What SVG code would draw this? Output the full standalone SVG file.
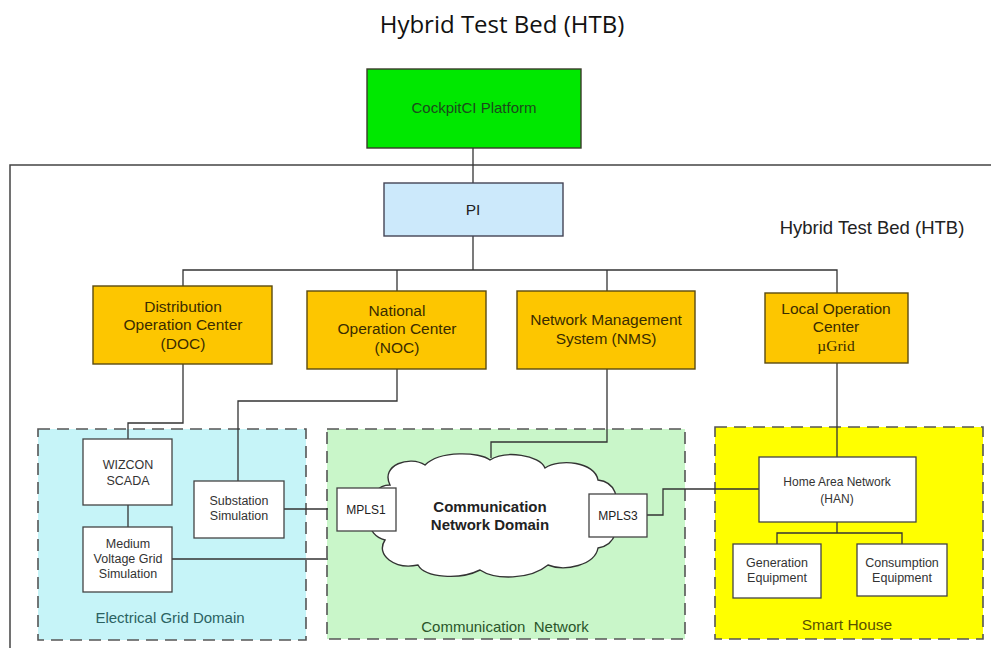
<svg xmlns="http://www.w3.org/2000/svg" width="991" height="648" viewBox="0 0 991 648">
<style>
text{font-family:"Liberation Sans",Arial,sans-serif;text-anchor:middle}
.box{stroke:#3a3a2a;stroke-width:1.4}
.org{fill:#fdc600;stroke:#5a4a10;stroke-width:1.4}
.org-t{font-size:15.5px;fill:#3a2c00}
.wb{fill:#ffffff;stroke:#444;stroke-width:1.3}
.sm{font-size:12.5px;fill:#333}
.dom{stroke:#555;stroke-width:1.6;stroke-dasharray:12 7}
.ln{fill:none;stroke:#333;stroke-width:1.3}
</style>
<rect width="991" height="648" fill="#ffffff"/>
<text x="502" y="33" style="font-family:'Open Sans','Liberation Sans',sans-serif;font-size:24px;fill:#111">Hybrid Test Bed (HTB)</text>

<g id="htb-frame">
<path d="M10 648 V165 H991" fill="none" stroke="#444" stroke-width="1.5"/>
<text x="872" y="234" style="font-size:18.5px;fill:#222">Hybrid Test Bed (HTB)</text>
</g>

<g id="electrical-domain">
<rect x="38" y="429" width="268" height="211" fill="#c6f4f8" class="dom"/>
<text x="170" y="623" style="font-size:15px;fill:#2b6262">Electrical Grid Domain</text>
</g>
<g id="communication-domain">
<rect x="327" y="429" width="358" height="210" fill="#c9f6c9" class="dom"/>
<text x="505" y="632" style="font-size:15px;fill:#2a552a" xml:space="preserve">Communication  Network</text>
</g>
<g id="smart-house">
<rect x="715" y="427" width="268" height="212" fill="#ffff00" class="dom"/>
<text x="847" y="630" style="font-size:15.5px;fill:#5a5200">Smart House</text>
</g>

<g id="connectors">
<path class="ln" d="M473 148 V183"/>
<path class="ln" d="M473 236 V270"/>
<path class="ln" d="M183 286 V270 H837 V293"/>
<path class="ln" d="M397 270 V291"/>
<path class="ln" d="M607 270 V291"/>
<path class="ln" d="M183 364 V423 H128 V439"/>
<path class="ln" d="M128 505 V527"/>
<path class="ln" d="M397 369 V401 H238 V481"/>
<path class="ln" d="M284 509 H328"/>
<path class="ln" d="M172 559 H328"/>
<path class="ln" d="M607 369 V442 H491 V458"/>
<path class="ln" d="M647 515 H663 V489 H759"/>
<path class="ln" d="M837 363 V457"/>
<path class="ln" d="M837 522 V533 M777 544 V533 H902 V544"/>
</g>

<g id="cockpitci">
<rect x="367" y="69" width="214" height="79" fill="#00e800" class="box"/>
<text x="474" y="113" style="font-size:15px;fill:#1c4a1c">CockpitCI Platform</text>
</g>
<g id="pi">
<rect x="384" y="183" width="179" height="53" fill="#cce9fb" stroke="#445" stroke-width="1.4"/>
<text x="473" y="215" style="font-size:15.5px;fill:#222">PI</text>
</g>
<g id="doc">
<rect x="93" y="286" width="179" height="78" class="org"/>
<text class="org-t" x="183" y="312">Distribution</text>
<text class="org-t" x="183" y="330">Operation Center</text>
<text class="org-t" x="183" y="349">(DOC)</text>
</g>
<g id="noc">
<rect x="307" y="291" width="179" height="78" class="org"/>
<text class="org-t" x="397" y="316">National</text>
<text class="org-t" x="397" y="334">Operation Center</text>
<text class="org-t" x="397" y="353">(NOC)</text>
</g>
<g id="nms">
<rect x="517" y="291" width="178" height="78" class="org"/>
<text class="org-t" x="606" y="325">Network Management</text>
<text class="org-t" x="606" y="344">System (NMS)</text>
</g>
<g id="loc">
<rect x="765" y="293" width="143" height="70" class="org"/>
<text class="org-t" x="836" y="314">Local Operation</text>
<text class="org-t" x="836" y="332">Center</text>
<text x="836" y="351" style="font-family:'Liberation Serif','Times New Roman',serif;font-size:15.5px;fill:#3a2c00">µGrid</text>
</g>

<g id="wizcon">
<rect x="83" y="439" width="89" height="66" class="wb"/>
<text class="sm" x="128" y="469">WIZCON</text>
<text class="sm" x="128" y="485">SCADA</text>
</g>
<g id="mv-grid">
<rect x="83" y="527" width="89" height="65" class="wb"/>
<text class="sm" x="128" y="548">Medium</text>
<text class="sm" x="128" y="563">Voltage Grid</text>
<text class="sm" x="128" y="578">Simulation</text>
</g>
<g id="substation">
<rect x="194" y="481" width="90" height="57" class="wb"/>
<text class="sm" x="239" y="505">Substation</text>
<text class="sm" x="239" y="520">Simulation</text>
</g>

<g id="cloud">
<path d="M390 485 C380 465 410 455 425 465 C440 450 480 452 490 460 C505 450 540 455 545 468 C560 458 595 462 598 480 C615 482 622 500 610 510 C622 525 616 545 598 548 C595 565 565 572 548 565 C530 580 495 580 480 570 C460 580 425 578 418 565 C395 570 375 555 385 540 C365 535 365 510 380 505 C370 495 378 485 390 485 Z" fill="#ffffff" stroke="#333" stroke-width="1.4"/>
<text x="490" y="512" style="font-size:15px;font-weight:bold;fill:#222">Communication</text>
<text x="490" y="530" style="font-size:15px;font-weight:bold;fill:#222">Network Domain</text>
</g>
<g id="mpls1">
<rect x="337" y="488" width="59" height="43" class="wb"/>
<text x="366" y="514" style="font-size:12px;fill:#222">MPLS1</text>
</g>
<g id="mpls3">
<rect x="589" y="494" width="58" height="43" class="wb"/>
<text x="618" y="520" style="font-size:12px;fill:#222">MPLS3</text>
</g>

<g id="han">
<rect x="759" y="457" width="157" height="65" class="wb"/>
<text x="837" y="486" style="font-size:12px;fill:#333">Home Area Network</text>
<text x="837" y="503" style="font-size:12px;fill:#333">(HAN)</text>
</g>
<g id="generation">
<rect x="733" y="544" width="88" height="54" class="wb"/>
<text class="sm" x="777" y="567">Generation</text>
<text class="sm" x="777" y="582">Equipment</text>
</g>
<g id="consumption">
<rect x="857" y="544" width="90" height="52" class="wb"/>
<text class="sm" x="902" y="567">Consumption</text>
<text class="sm" x="902" y="582">Equipment</text>
</g>
</svg>
